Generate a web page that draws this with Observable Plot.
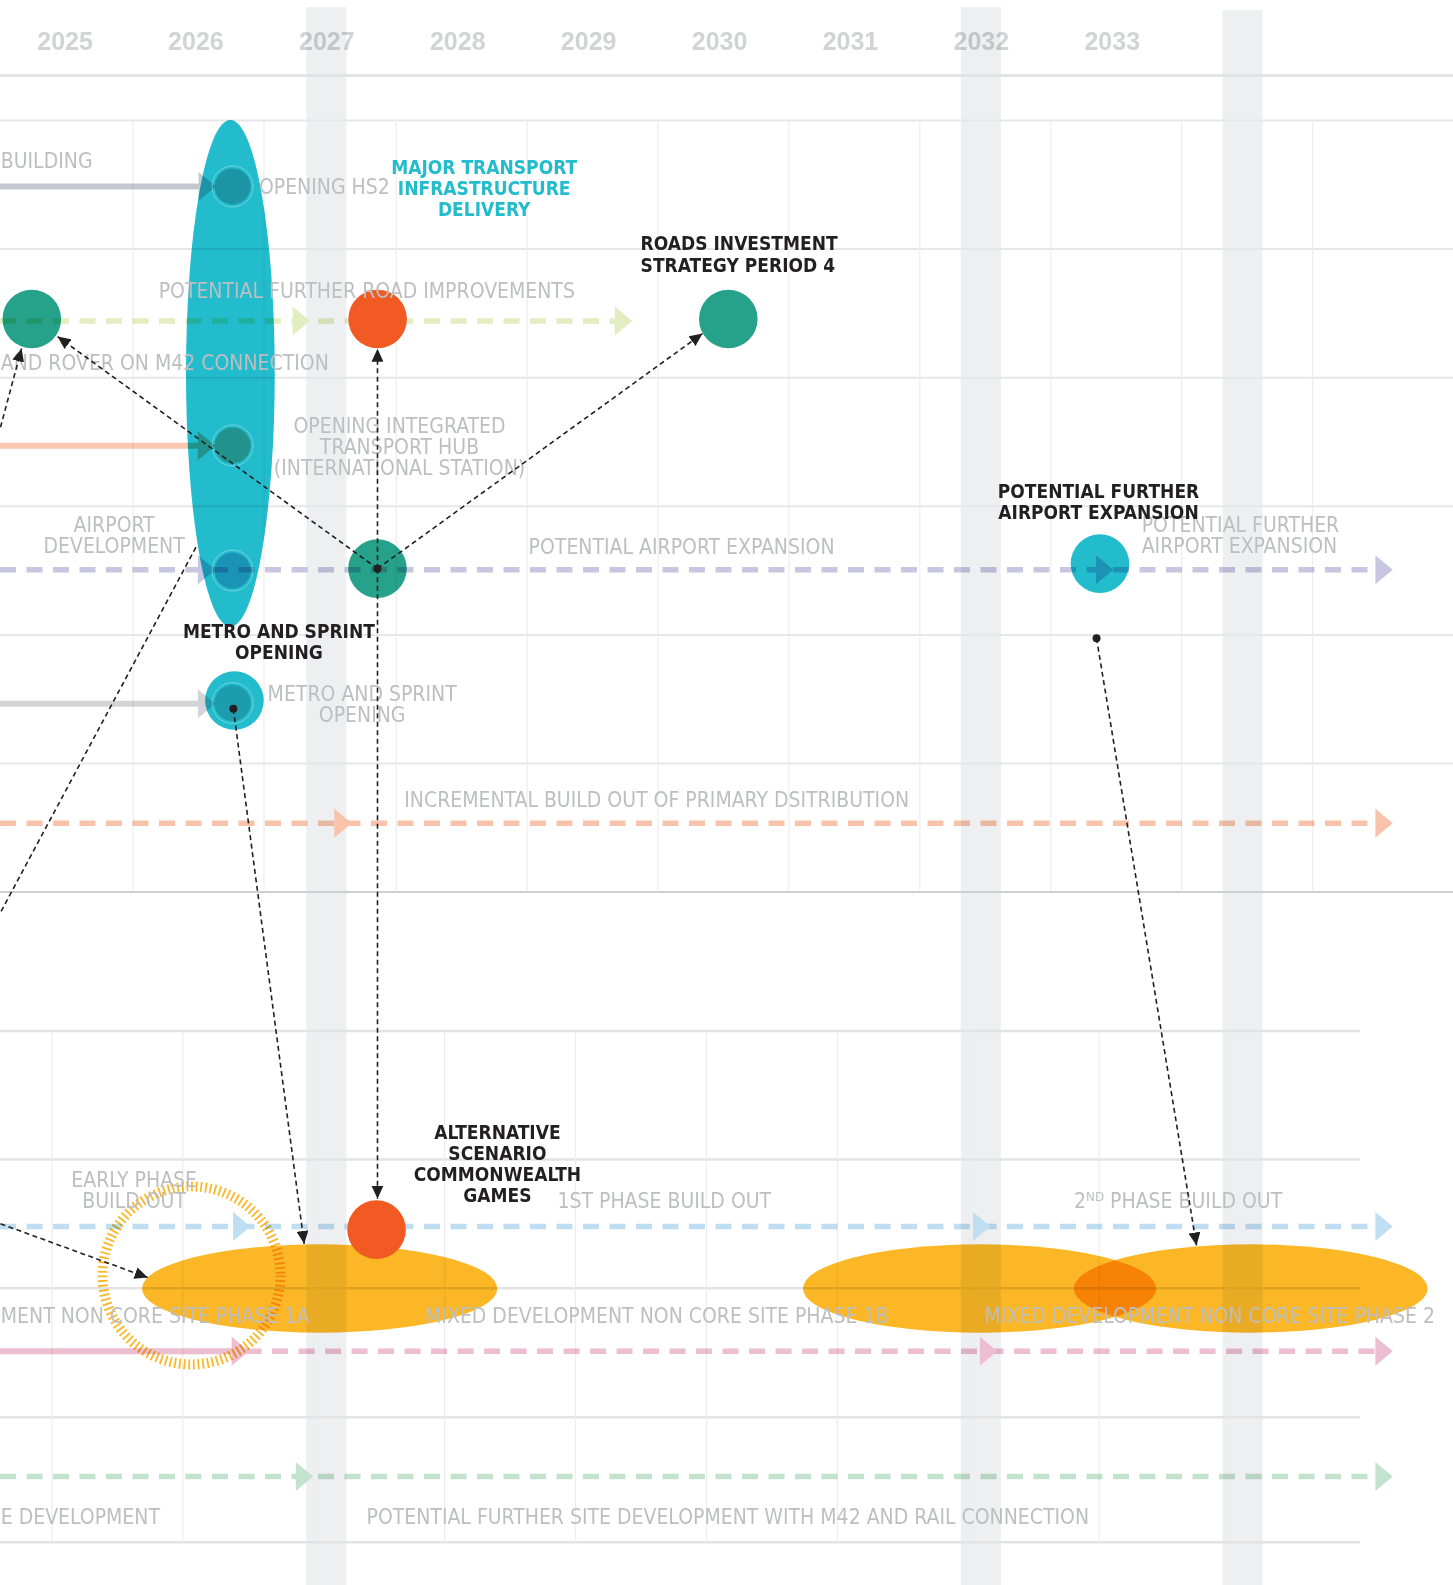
<!DOCTYPE html>
<html>
<head>
<meta charset="utf-8">
<script src="https://cdn.jsdelivr.net/npm/d3@7"></script>
<script src="https://cdn.jsdelivr.net/npm/@observablehq/plot@0.6"></script>
<style>
  html, body { margin: 0; padding: 0; background: #ffffff; }
  #chart svg { display: block; max-width: none; }
</style>
</head>
<body>
<div id="chart"></div>
<script>
// ---------------- DATA (years on x, lanes on y) ----------------
const years = [2025, 2026, 2027, 2028, 2029, 2030, 2031, 2032, 2033];
const bandYears = [2027, 2032, 2034];
const bandTops = [-0.877, -0.877, -0.855];
const upperGridYears = [2025.52, 2026.52, 2027.53, 2028.53, 2029.53, 2030.53, 2031.53, 2032.53, 2033.53, 2034.53];
const lowerGridYears = [2024.9, 2025.9, 2026.9, 2027.9, 2028.9, 2029.9, 2030.9, 2031.9, 2032.9, 2033.9];
const headerLane = [-0.35];
const upperLaneLines = [0, 1, 2, 3, 4, 5];
const dividerLane = [6];
const lowerLaneLines = [7.08, 8.08, 9.08, 10.083, 11.055];

const streams = ["HS2", "Roads", "Hub", "Airport", "Metro", "Distribution", "Build out", "Mixed use", "Site"];
const milestoneKinds = ["Investment", "Games", "Transport"];

const segments = [
  {stream: "HS2", lane: 0.513, start: 2024.45, end: 2026.13, dashed: false},
  {stream: "Roads", lane: 1.56, start: 2024.507, end: 2029.31, dashed: true},
  {stream: "Hub", lane: 2.53, start: 2024.45, end: 2026.125, dashed: false},
  {stream: "Airport", lane: 3.493, start: 2024.507, end: 2035.12, dashed: true},
  {stream: "Metro", lane: 4.536, start: 2024.45, end: 2026.125, dashed: false},
  {stream: "Distribution", lane: 5.464, start: 2024.507, end: 2035.12, dashed: true},
  {stream: "Build out", lane: 8.6, start: 2024.507, end: 2035.12, dashed: true},
  {stream: "Mixed use", lane: 9.57, start: 2024.45, end: 2026.383, dashed: false},
  {stream: "Mixed use", lane: 9.57, start: 2026.383, end: 2035.12, dashed: true},
  {stream: "Site", lane: 10.544, start: 2024.507, end: 2035.12, dashed: true}
];

const heads = [
  {stream: "HS2", lane: 0.513, year: 2026.13},
  {stream: "Roads", lane: 1.56, year: 2026.848},
  {stream: "Roads", lane: 1.56, year: 2029.31},
  {stream: "Hub", lane: 2.53, year: 2026.125},
  {stream: "Airport", lane: 3.493, year: 2026.125},
  {stream: "Airport", lane: 3.493, year: 2032.986},
  {stream: "Airport", lane: 3.493, year: 2035.12},
  {stream: "Metro", lane: 4.536, year: 2026.125},
  {stream: "Distribution", lane: 5.464, year: 2027.167},
  {stream: "Distribution", lane: 5.464, year: 2035.12},
  {stream: "Build out", lane: 8.6, year: 2026.394},
  {stream: "Build out", lane: 8.6, year: 2032.046},
  {stream: "Build out", lane: 8.6, year: 2035.12},
  {stream: "Mixed use", lane: 9.57, year: 2026.383},
  {stream: "Mixed use", lane: 9.57, year: 2032.099},
  {stream: "Mixed use", lane: 9.57, year: 2035.12},
  {stream: "Site", lane: 10.544, year: 2026.873},
  {stream: "Site", lane: 10.544, year: 2035.12}
];

const milestones = [
  {kind: "Investment", year: 2024.746, lane: 1.544},
  {kind: "Games", year: 2027.388, lane: 1.544},
  {kind: "Investment", year: 2030.067, lane: 1.544},
  {kind: "Investment", year: 2027.387, lane: 3.485},
  {kind: "Transport", year: 2032.906, lane: 3.446},
  {kind: "Transport", year: 2026.294, lane: 4.51},
  {kind: "Games", year: 2027.38, lane: 8.625}
];

const openings = [
  {stream: "HS2", year: 2026.28, lane: 0.513},
  {stream: "Hub", year: 2026.28, lane: 2.527},
  {stream: "Airport", year: 2026.28, lane: 3.5},
  {stream: "Metro", year: 2026.28, lane: 4.53}
];

const deliveryWindow = [{start: 2025.928, end: 2026.606, top: 0.0, bottom: 3.94}];
const mixedPhases = [
  {phase: "1A", start: 2025.592, end: 2028.306, top: 8.743, bottom: 9.43},
  {phase: "1B", start: 2030.641, end: 2033.34, top: 8.743, bottom: 9.43},
  {phase: "2", start: 2032.71, end: 2035.413, top: 8.743, bottom: 9.43}
];
const earlyPhase = [{year: 2025.966, lane: 8.981}];

const connectors = [
  {x1: 2027.387, y1: 3.485, x2: 2024.943, y2: 1.68},
  {x1: 2027.387, y1: 3.485, x2: 2029.87, y2: 1.657},
  {x1: 2027.387, y1: 3.485, x2: 2027.387, y2: 1.775},
  {x1: 2027.387, y1: 3.485, x2: 2027.387, y2: 8.385},
  {x1: 2026.286, y1: 4.575, x2: 2026.827, y2: 8.735},
  {x1: 2032.88, y1: 4.026, x2: 2033.644, y2: 8.748},
  {x1: 2024.507, y1: 2.385, x2: 2024.668, y2: 1.773},
  {x1: 2024.507, y1: 8.579, x2: 2025.631, y2: 8.997}
];
const leaders = [{x1: 2026.0, y1: 3.318, x2: 2024.507, y2: 6.159}];
const origins = [
  {year: 2027.387, lane: 3.485},
  {year: 2026.286, lane: 4.575},
  {year: 2032.88, lane: 4.026}
];

const greyLabels = [
  {text: "BUILDING", year: 2024.509, lane: 0.319, align: "start"},
  {text: "OPENING HS2", year: 2026.481, lane: 0.518, align: "start"},
  {text: "POTENTIAL FURTHER ROAD IMPROVEMENTS", year: 2027.305, lane: 1.33, align: "middle"},
  {text: "AND ROVER ON M42 CONNECTION", year: 2024.509, lane: 1.887, align: "start"},
  {text: "OPENING INTEGRATED\nTRANSPORT HUB\n(INTERNATIONAL STATION)", year: 2027.555, lane: 2.54, align: "middle"},
  {text: "AIRPORT\nDEVELOPMENT", year: 2025.375, lane: 3.23, align: "middle"},
  {text: "POTENTIAL AIRPORT EXPANSION", year: 2029.71, lane: 3.315, align: "middle"},
  {text: "POTENTIAL FURTHER\nAIRPORT EXPANSION", year: 2033.225, lane: 3.227, align: "start"},
  {text: "METRO AND SPRINT\nOPENING", year: 2027.27, lane: 4.54, align: "middle"},
  {text: "INCREMENTAL BUILD OUT OF PRIMARY DSITRIBUTION", year: 2029.52, lane: 5.283, align: "middle"},
  {text: "EARLY PHASE\nBUILD OUT", year: 2025.528, lane: 8.323, align: "middle"},
  {text: "1ST PHASE BUILD OUT", year: 2029.578, lane: 8.406, align: "middle"},
  {text: "2ᴺᴰ PHASE BUILD OUT", year: 2033.503, lane: 8.406, align: "middle"},
  {text: "MENT NON CORE SITE PHASE 1A", year: 2024.509, lane: 9.3, align: "start"},
  {text: "MIXED DEVELOPMENT NON CORE SITE PHASE 1B", year: 2029.52, lane: 9.3, align: "middle"},
  {text: "MIXED DEVELOPMENT NON CORE SITE PHASE 2", year: 2033.745, lane: 9.3, align: "middle"},
  {text: "E DEVELOPMENT", year: 2024.509, lane: 10.86, align: "start"},
  {text: "POTENTIAL FURTHER SITE DEVELOPMENT WITH M42 AND RAIL CONNECTION", year: 2030.063, lane: 10.86, align: "middle"}
];

const keyLabels = [
  {text: "ROADS INVESTMENT\nSTRATEGY PERIOD 4", year: 2029.397, lane: 1.04, align: "start"},
  {text: "METRO AND SPRINT\nOPENING", year: 2026.634, lane: 4.05, align: "middle"},
  {text: "POTENTIAL FURTHER\nAIRPORT EXPANSION", year: 2032.895, lane: 2.968, align: "middle"},
  {text: "ALTERNATIVE\nSCENARIO\nCOMMONWEALTH\nGAMES", year: 2028.303, lane: 8.11, align: "middle"}
];
const deliveryLabel = [{text: "MAJOR TRANSPORT\nINFRASTRUCTURE\nDELIVERY", year: 2028.202, lane: 0.526}];

// ---------------- SHAPES ----------------
const headSymbol = {
  draw(context, size) {
    const r = Math.sqrt(size / Math.PI);
    const tip = 3;
    context.moveTo(tip - 1.2 * r, -r);
    context.lineTo(tip, 0);
    context.lineTo(tip - 1.2 * r, r);
    context.closePath();
  }
};

function arrowMarker(color, context) {
  const doc = (context && context.document) || document;
  const ns = "http://www.w3.org/2000/svg";
  const m = doc.createElementNS(ns, "marker");
  m.setAttribute("viewBox", "-13 -6 13 12");
  m.setAttribute("markerWidth", "13");
  m.setAttribute("markerHeight", "12");
  m.setAttribute("markerUnits", "userSpaceOnUse");
  m.setAttribute("refX", "0");
  m.setAttribute("refY", "0");
  m.setAttribute("orient", "auto");
  const p = doc.createElementNS(ns, "path");
  p.setAttribute("d", "M-13,-6L0,0L-13,6Z");
  p.setAttribute("fill", color);
  p.setAttribute("stroke", "none");
  p.setAttribute("stroke-dasharray", "none");
  m.appendChild(p);
  return m;
}

const narrow = "'Liberation Sans Narrow', 'Arial Narrow', 'DejaVu Sans Condensed', 'Roboto Condensed', Roboto, sans-serif";
const greyText = "#BDBEC0";
const byAlign = (arr, a) => arr.filter(d => d.align === a);
const boldSize = 19;
const boldLine = 1.11;

const marks = [
  // grey year bands
  Plot.rect(bandYears, {x1: d => d - 0.153, x2: d => d + 0.153, y1: (d, i) => bandTops[i], y2: 11.392, fill: "#EEEFF1"}),
  // horizontal lane lines
  Plot.ruleY(headerLane, {y: d => d, stroke: "#E3E3E4", strokeWidth: 3}),
  Plot.ruleY(upperLaneLines, {y: d => d, stroke: "#E7E7E8", strokeWidth: 2}),
  Plot.ruleY(dividerLane, {y: d => d, stroke: "#CFCFD1", strokeWidth: 2}),
  Plot.ruleY(lowerLaneLines, {y: d => d, x1: 2024.507, x2: 2034.897, stroke: "#E3E3E4", strokeWidth: 2.5}),
  // vertical grid
  Plot.ruleX(upperGridYears, {x: d => d, y1: 0, y2: 6, stroke: "#EDEDEE", strokeWidth: 1.2}),
  Plot.ruleX(lowerGridYears, {x: d => d, y1: 7.08, y2: 11.055, stroke: "#EDEDEE", strokeWidth: 1.2}),
  // mixed development phases (ellipses)
  Plot.rect(mixedPhases, {x1: "start", x2: "end", y1: "top", y2: "bottom", rx: 5000, ry: 5000, fill: "#FBB726", mixBlendMode: "multiply"}),
  // timelines
  Plot.ruleY(segments.filter(d => !d.dashed), {y: "lane", x1: "start", x2: "end", stroke: "stream", strokeWidth: 6, mixBlendMode: "multiply"}),
  Plot.ruleY(segments.filter(d => d.dashed), {y: "lane", x1: "start", x2: "end", stroke: "stream", strokeWidth: 5.5, strokeDasharray: "16,10.5", mixBlendMode: "multiply"}),
  Plot.dot(heads, {x: "year", y: "lane", symbol: headSymbol, r: 14.5, fill: "stream", stroke: "none"}),
  // major transport infrastructure delivery window
  Plot.rect(deliveryWindow, {x1: "start", x2: "end", y1: "top", y2: "bottom", rx: 5000, ry: 5000, fill: "#22BCCD", mixBlendMode: "multiply"}),
  // milestones
  Plot.dot(milestones.filter(d => d.kind !== "Games"), {x: "year", y: "lane", r: 29.3, fill: "kind", stroke: "none", mixBlendMode: "multiply"}),
  Plot.dot(milestones.filter(d => d.kind === "Games"), {x: "year", y: "lane", r: 29.3, fill: "kind", stroke: "none"}),
  Plot.dot(openings, {x: "year", y: "lane", r: 18, fill: "stream", stroke: "none", mixBlendMode: "multiply"}),
  Plot.dot(openings, {x: "year", y: "lane", r: 20.5, fill: "none", stroke: "#FFFFFF", strokeOpacity: 0.35, strokeWidth: 1}),
  // early phase hatched ring
  Plot.dot(earlyPhase, {x: "year", y: "lane", r: 89, fill: "none", stroke: "#FBB726", strokeWidth: 10, strokeDasharray: "1.8,2.9", mixBlendMode: "multiply"}),
  // year labels
  Plot.text(years, {x: d => d, y: -0.609, text: d => String(d), fontSize: 25, fontWeight: 700, fill: "#D2D3D5", fontFamily: "'Liberation Sans', Roboto, sans-serif", mixBlendMode: "multiply"}),
  // grey stream labels
  Plot.text(byAlign(greyLabels, "start"), {x: "year", y: "lane", text: "text", textAnchor: "start", fontSize: 21, lineHeight: 1, fill: greyText, fontFamily: narrow}),
  Plot.text(byAlign(greyLabels, "middle"), {x: "year", y: "lane", text: "text", textAnchor: "middle", fontSize: 21, lineHeight: 1, fill: greyText, fontFamily: narrow}),
  Plot.text(byAlign(greyLabels, "end"), {x: "year", y: "lane", text: "text", textAnchor: "end", fontSize: 21, lineHeight: 1, fill: greyText, fontFamily: narrow}),
  // connectors
  Plot.link(leaders, {x1: "x1", y1: "y1", x2: "x2", y2: "y2", stroke: "#231F20", strokeWidth: 1.6, strokeDasharray: "5,3.5"}),
  Plot.link(connectors, {x1: "x1", y1: "y1", x2: "x2", y2: "y2", stroke: "#231F20", strokeWidth: 1.6, strokeDasharray: "5,3.5", markerEnd: arrowMarker}),
  Plot.dot(origins, {x: "year", y: "lane", r: 4, fill: "#231F20", stroke: "none"}),
  // key labels
  Plot.text(byAlign(keyLabels, "start"), {x: "year", y: "lane", text: "text", textAnchor: "start", fontSize: boldSize, fontWeight: 700, lineHeight: boldLine, fill: "#231F20", fontFamily: narrow}),
  Plot.text(byAlign(keyLabels, "middle"), {x: "year", y: "lane", text: "text", textAnchor: "middle", fontSize: boldSize, fontWeight: 700, lineHeight: boldLine, fill: "#231F20", fontFamily: narrow}),
  Plot.text(deliveryLabel, {x: "year", y: "lane", text: "text", textAnchor: "middle", fontSize: boldSize, fontWeight: 700, lineHeight: boldLine, fill: "#22BCCD", fontFamily: narrow})
];

const chart = Plot.plot({
  width: 1453,
  height: 1585,
  marginTop: 0, marginRight: 0, marginBottom: 0, marginLeft: 0,
  x: {domain: [2024.507, 2035.607], range: [0, 1453], axis: null},
  y: {domain: [-0.933, 11.392], range: [0, 1585], axis: null},
  color: {
    domain: [...streams, ...milestoneKinds],
    range: ["#C5C9CF", "#E3EDC2", "#F9C6AE", "#C8C7E2", "#D3D4D7", "#F9C3AB", "#C0DEF2", "#EDBDD0", "#C4E3CF", "#26A28A", "#F15A22", "#22BCCD"]
  },
  style: {background: "#ffffff", overflow: "hidden"},
  marks
});
document.getElementById("chart").appendChild(chart);
</script>
</body>
</html>
